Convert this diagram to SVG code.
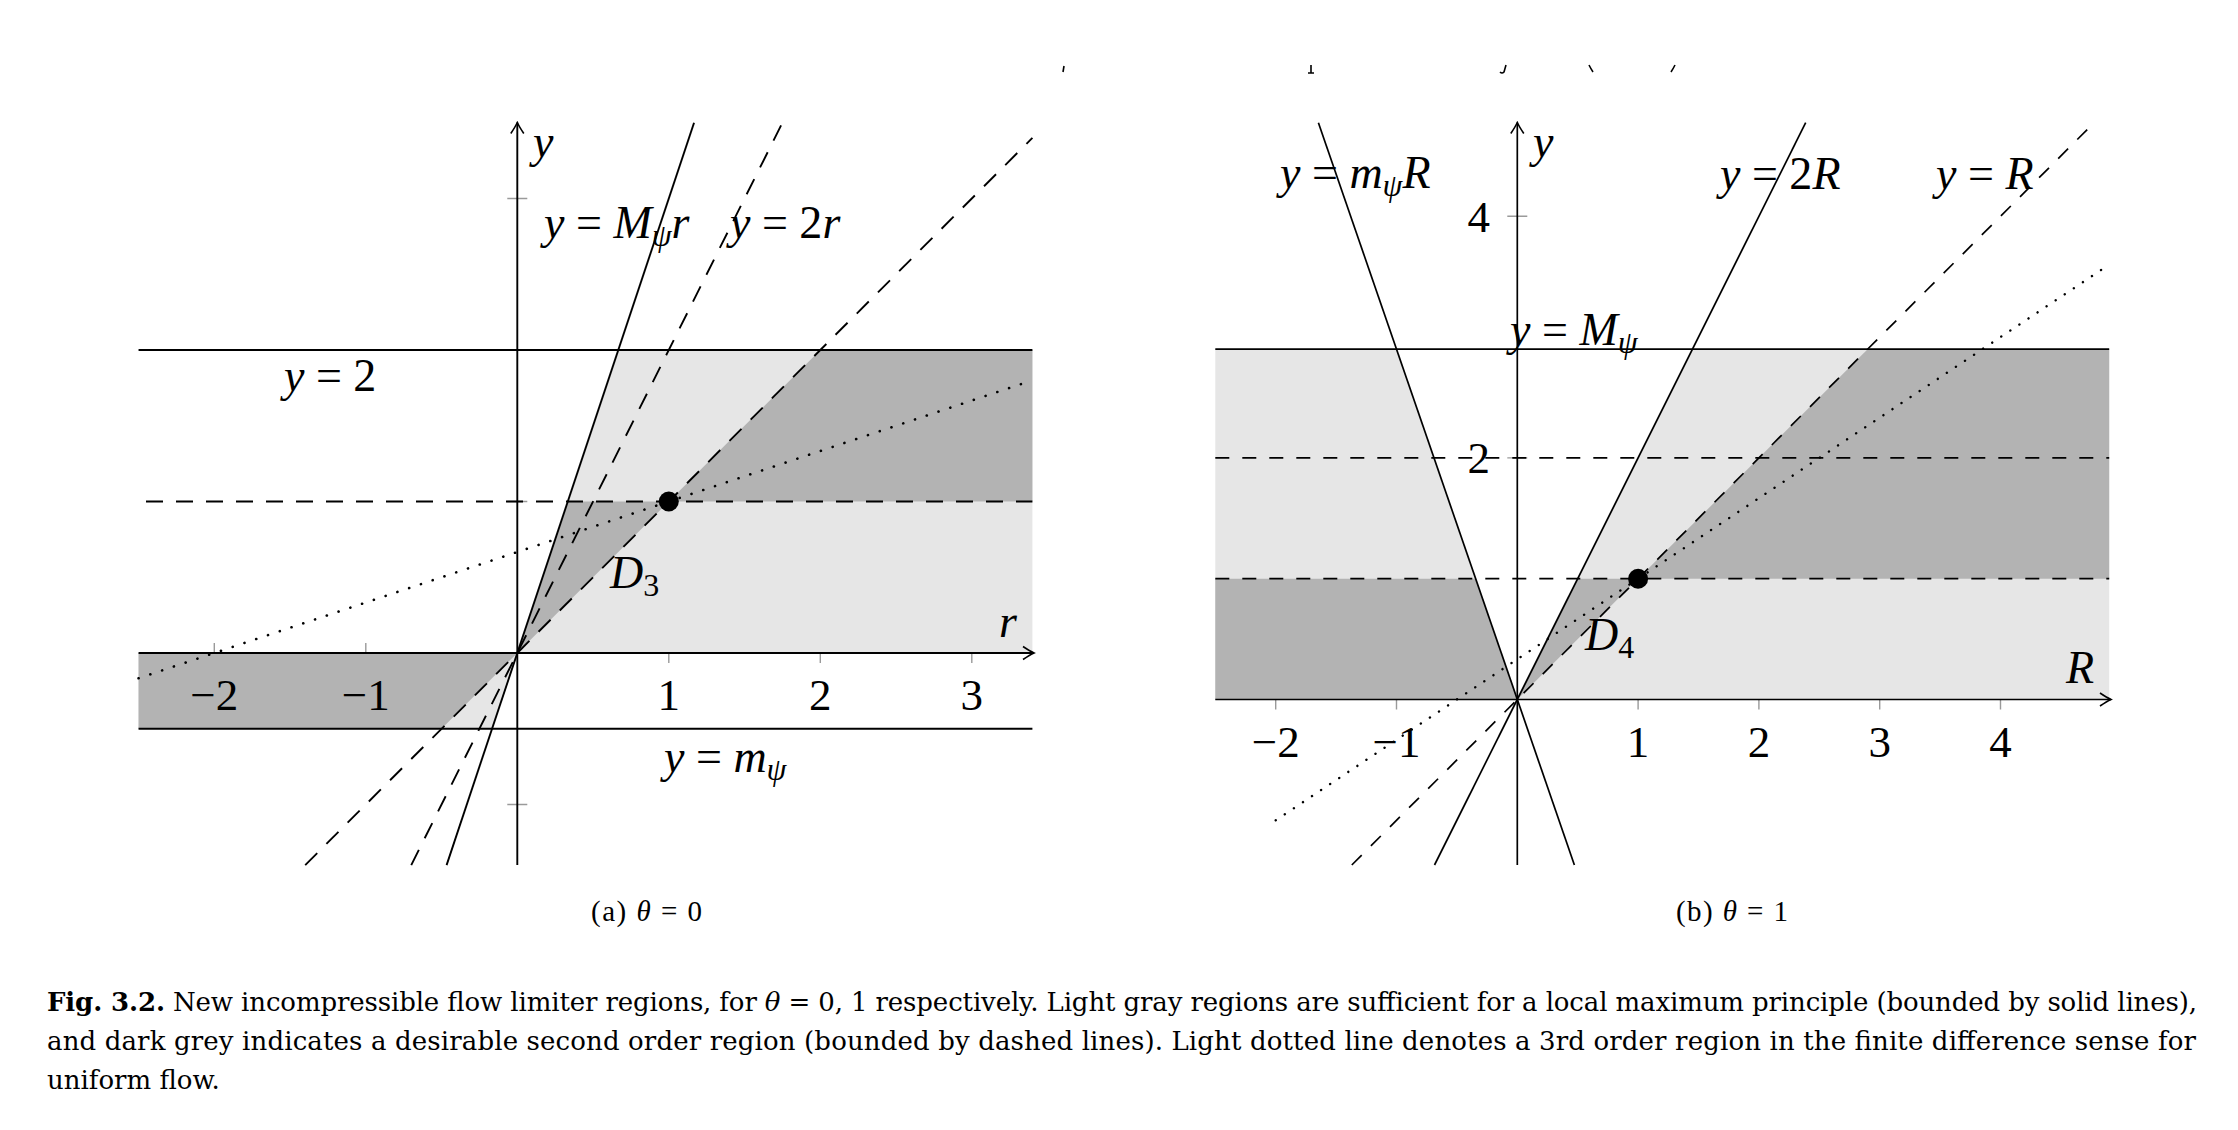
<svg xmlns="http://www.w3.org/2000/svg" width="2238" height="1130" viewBox="0 0 2238 1130">
<style>
.ln{stroke:#000;fill:none}
.a{stroke-width:1.9}
.b{stroke-width:1.7}
.da{stroke-dasharray:17 13}
.db{stroke-dasharray:14 13}
.dota{stroke-dasharray:0.1 12.3;stroke-linecap:round;stroke-width:2.6}
.dotb{stroke-dasharray:0.1 10.8;stroke-linecap:round;stroke-width:2.4}
.light{fill:#e6e6e6}
.dark{fill:#b3b3b3}
.tick{stroke:#9a9a9a;stroke-width:1.4}
.lab{font-family:'Liberation Serif','Times New Roman',serif;font-size:46px;fill:#000}
.num{font-family:'Liberation Serif','Times New Roman',serif;font-size:45px;fill:#000;text-anchor:middle}
.it{font-style:italic}
.sub{font-size:32px;font-style:italic}
.cap{font-family:'DejaVu Serif',serif;font-size:26px;fill:#000}
.sc{font-family:'Liberation Serif','Times New Roman',serif;font-size:29px;fill:#000}
</style>
<defs>
<marker id="arr" viewBox="-14 -9 16 18" markerWidth="16" markerHeight="18" refX="0" refY="0" orient="auto" markerUnits="userSpaceOnUse">
<path d="M -11 -6.5 Q -4 -1.8 0 0 Q -4 1.8 -11 6.5" stroke="#000" stroke-width="1.6" fill="none"/>
</marker>
</defs>
<rect width="2238" height="1130" fill="#fff"/>

<g id="fragments" stroke="#000" fill="none" stroke-width="1.6">
<path d="M1064 66 L1063 72"/>
<path d="M1311 65 L1311 73 M1308 73 L1314 73"/>
<path d="M1506 65 L1504 72 Q1502 74 1500 72"/>
<path d="M1589 65 Q1591 69 1593 72"/>
<path d="M1675 65 Q1673 69 1671 72"/>
</g>

<g id="panel-a">
<g id="a-ticks">
<path class="tick" d="M214.3 643V663M365.8 643V663M668.8 643V663M820.3 643V663M971.8 643V663M507.3 198.5H527.3M507.3 501.5H527.3M507.3 804.5H527.3"/>
</g>
<g id="a-regions">
<polygon class="light" points="517.3,653 618.3,350 1032.4,350 1032.4,653"/>
<polygon class="light" points="138.55,653 517.3,653 492.05,728.75 138.55,728.75"/>
<polygon class="dark" points="138.55,653 517.3,653 441.55,728.75 138.55,728.75"/>
<polygon class="dark" points="517.3,653 567.8,501.5 668.8,501.5"/>
<polygon class="dark" points="668.8,501.5 820.3,350 1032.4,350 1032.4,501.5"/>
</g>
<g id="a-connectors">
<line class="ln a" x1="138.55" y1="350" x2="1032.4" y2="350"/>
<line class="ln a" x1="138.55" y1="728.75" x2="1032.4" y2="728.75"/>
<line class="ln a da" x1="146" y1="501.5" x2="1032.4" y2="501.5"/>
<line class="ln a" x1="446.6" y1="865.1" x2="694.05" y2="122.75"/>
<line class="ln a da" x1="411.25" y1="865.1" x2="782.4" y2="122.75"/>
<line class="ln a da" x1="305.2" y1="865.1" x2="1032.4" y2="137.9"/>
<line class="ln dota" x1="138.55" y1="678.25" x2="1032.4" y2="380.3"/>
<line class="ln a" x1="138.55" y1="653" x2="1034" y2="653" marker-end="url(#arr)"/>
<line class="ln a" x1="517.3" y1="865.1" x2="517.3" y2="122.5" marker-end="url(#arr)"/>
</g>
<circle id="a-point" cx="668.8" cy="501.5" r="10" fill="#000"/>
<g id="a-labels">
<text class="lab it" x="533" y="157">y</text>
<text class="lab" x="544" y="238"><tspan class="it">y</tspan> = <tspan class="it">M</tspan><tspan class="sub" dy="8">ψ</tspan><tspan class="it" dy="-8">r</tspan></text>
<text class="lab" x="730" y="238"><tspan class="it">y</tspan> = 2<tspan class="it">r</tspan></text>
<text class="lab" x="284" y="391"><tspan class="it">y</tspan> = 2</text>
<text class="lab" x="610" y="588"><tspan class="it">D</tspan><tspan font-size="32px" dy="8">3</tspan></text>
<text class="lab it" x="999" y="637">r</text>
<text class="lab" x="664" y="772"><tspan class="it">y</tspan> = <tspan class="it">m</tspan><tspan class="sub" dy="8">ψ</tspan></text>
<text class="num" x="214.3" y="710">−2</text>
<text class="num" x="365.8" y="710">−1</text>
<text class="num" x="668.8" y="710">1</text>
<text class="num" x="820.3" y="710">2</text>
<text class="num" x="971.8" y="710">3</text>
<text class="sc" x="591" y="921" textLength="111" lengthAdjust="spacing">(a) <tspan class="it">θ</tspan> = 0</text>
</g>
</g>

<g id="panel-b">
<g id="b-ticks">
<path class="tick" d="M1275.7 689.5V709.5M1396.5 689.5V709.5M1638.1 689.5V709.5M1758.9 689.5V709.5M1879.7 689.5V709.5M2000.5 689.5V709.5M1507.3 216.3H1527.3M1507.3 457.9H1527.3"/>
</g>
<g id="b-regions">
<polygon class="light" points="1215.3,699.5 1517.3,699.5 1396.5,349.2 1215.3,349.2"/>
<polygon class="light" points="1517.3,699.5 1692.5,349.2 2109.2,349.2 2109.2,699.5"/>
<polygon class="dark" points="1215.3,699.5 1517.3,699.5 1475.6,578.7 1215.3,578.7"/>
<polygon class="dark" points="1517.3,699.5 1577.7,578.7 1638.1,578.7"/>
<polygon class="dark" points="1638.1,578.7 1867.6,349.2 2109.2,349.2 2109.2,578.7"/>
</g>
<g id="b-connectors">
<line class="ln b" x1="1215.3" y1="349.2" x2="2109.2" y2="349.2"/>
<line class="ln b db" x1="1215.3" y1="457.9" x2="2109.2" y2="457.9"/>
<line class="ln b db" x1="1215.3" y1="578.7" x2="2109.2" y2="578.7"/>
<line class="ln b" x1="1318.4" y1="122.7" x2="1574.4" y2="865"/>
<line class="ln b" x1="1434.5" y1="865" x2="1805.7" y2="122.7"/>
<line class="ln b db" x1="1351.8" y1="865" x2="2094.1" y2="122.7"/>
<line class="ln dotb" x1="1275.7" y1="820.3" x2="2109.2" y2="264.6"/>
<line class="ln b" x1="1215.3" y1="699.5" x2="2111" y2="699.5" marker-end="url(#arr)"/>
<line class="ln b" x1="1517.3" y1="865" x2="1517.3" y2="122.5" marker-end="url(#arr)"/>
</g>
<circle id="b-point" cx="1638.1" cy="578.7" r="10" fill="#000"/>
<g id="b-labels">
<text class="lab it" x="1533" y="157">y</text>
<text class="lab" x="1280" y="188"><tspan class="it">y</tspan> = <tspan class="it">m</tspan><tspan class="sub" dy="8">ψ</tspan><tspan class="it" dy="-8">R</tspan></text>
<text class="lab" x="1720" y="189"><tspan class="it">y</tspan> = 2<tspan class="it">R</tspan></text>
<text class="lab" x="1936" y="189"><tspan class="it">y</tspan> = <tspan class="it">R</tspan></text>
<text class="lab" x="1510" y="345"><tspan class="it">y</tspan> = <tspan class="it">M</tspan><tspan class="sub" dy="8">ψ</tspan></text>
<text class="lab" x="1585" y="650"><tspan class="it">D</tspan><tspan font-size="32px" dy="8">4</tspan></text>
<text class="lab it" x="2066" y="683">R</text>
<text class="num" x="1490" y="232" style="text-anchor:end">4</text>
<text class="num" x="1490" y="473" style="text-anchor:end">2</text>
<text class="num" x="1275.7" y="757">−2</text>
<text class="num" x="1396.5" y="757">−1</text>
<text class="num" x="1638.1" y="757">1</text>
<text class="num" x="1758.9" y="757">2</text>
<text class="num" x="1879.7" y="757">3</text>
<text class="num" x="2000.5" y="757">4</text>
<text class="sc" x="1676" y="921" textLength="112" lengthAdjust="spacing">(b) <tspan class="it">θ</tspan> = 1</text>
</g>
</g>

<g id="caption">
<text class="cap" x="47" y="1011" textLength="2150" lengthAdjust="spacing"><tspan font-weight="bold">Fig. 3.2.</tspan> New incompressible flow limiter regions, for <tspan font-style="italic">θ</tspan> = 0, 1 respectively. Light gray regions are sufficient for a local maximum principle (bounded by solid lines),</text>
<text class="cap" x="47" y="1050" textLength="2149" lengthAdjust="spacing">and dark grey indicates a desirable second order region (bounded by dashed lines). Light dotted line denotes a 3rd order region in the finite difference sense for</text>
<text class="cap" x="47" y="1089">uniform flow.</text>
</g>
</svg>
